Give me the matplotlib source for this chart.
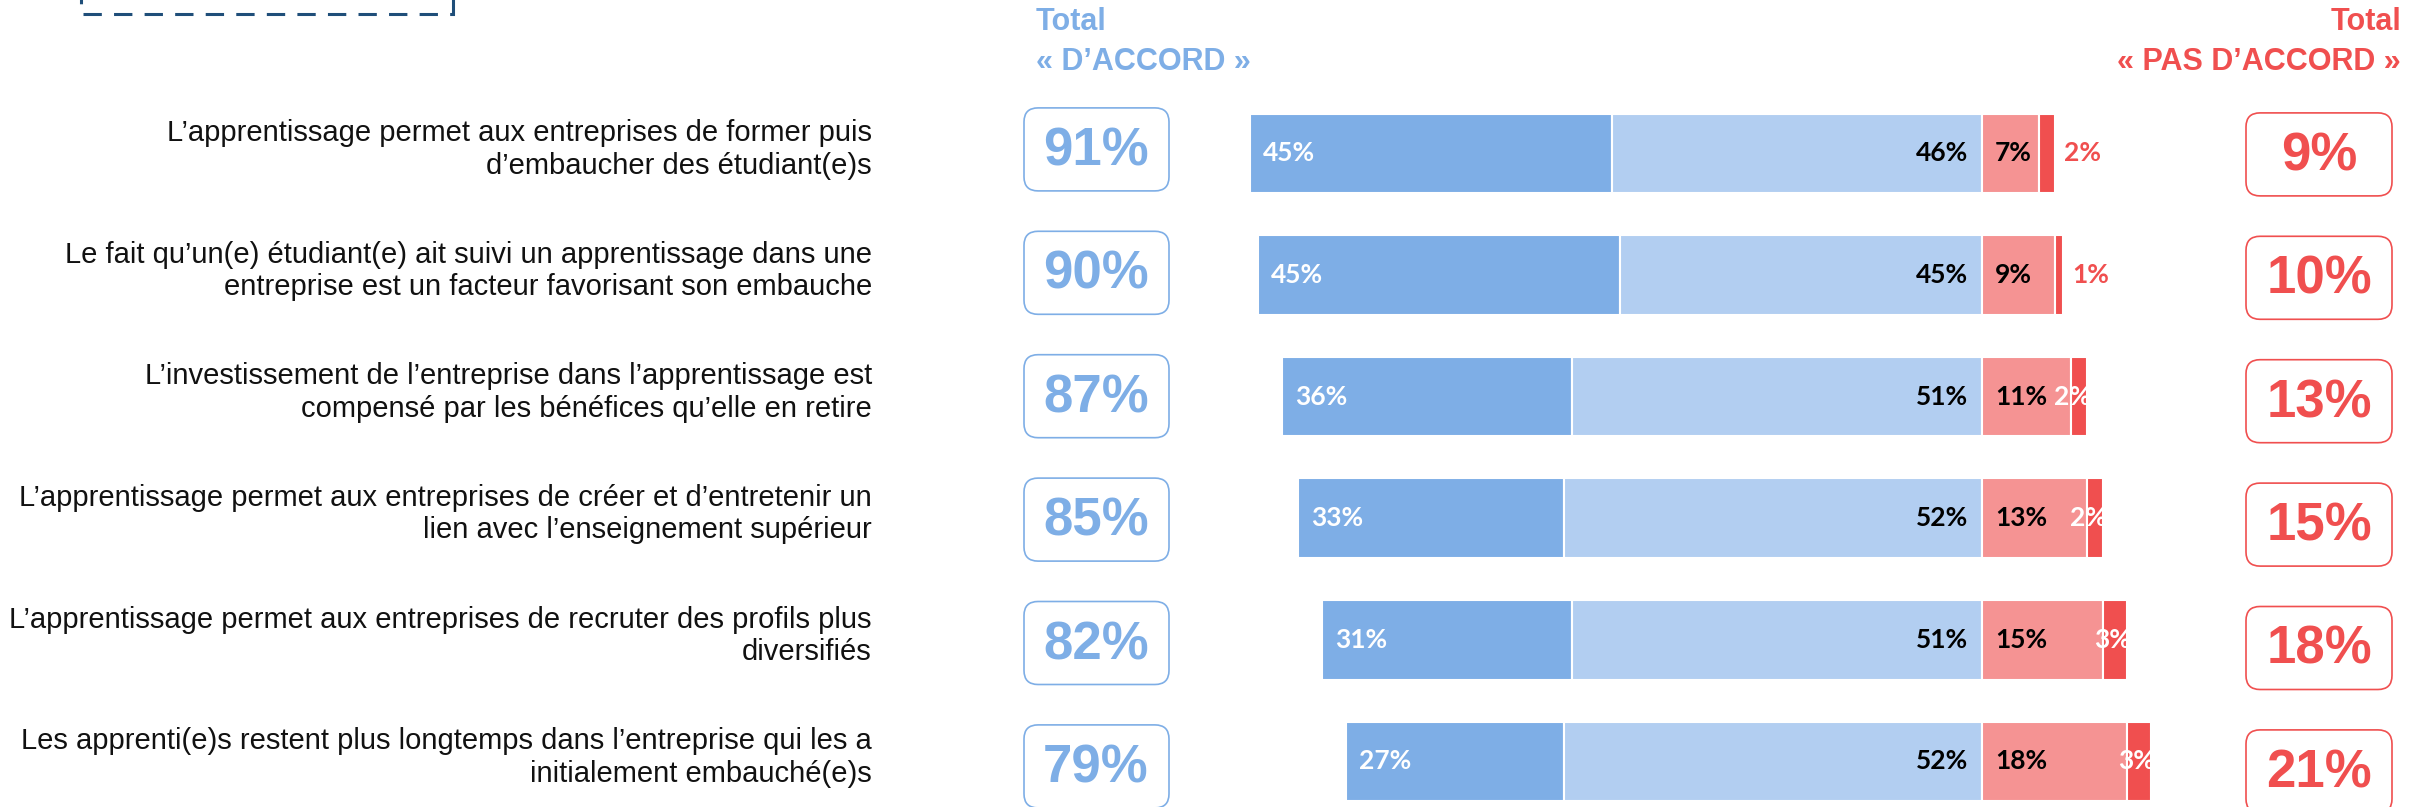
import matplotlib
matplotlib.use('Agg')
import matplotlib.pyplot as plt
from matplotlib.patches import FancyBboxPatch, Rectangle
import numpy as np

# Survey statements and answer shares (%)
statements = [
    "L\u2019apprentissage permet aux entreprises de former puis\nd\u2019embaucher des \u00e9tudiant(e)s",
    "Le fait qu\u2019un(e) \u00e9tudiant(e) ait suivi un apprentissage dans une\nentreprise est un facteur favorisant son embauche",
    "L\u2019investissement de l\u2019entreprise dans l\u2019apprentissage est\ncompens\u00e9 par les b\u00e9n\u00e9fices qu\u2019elle en retire",
    "L\u2019apprentissage permet aux entreprises de cr\u00e9er et d\u2019entretenir un\nlien avec l\u2019enseignement sup\u00e9rieur",
    "L\u2019apprentissage permet aux entreprises de recruter des profils plus\ndiversifi\u00e9s",
    "Les apprenti(e)s restent plus longtemps dans l\u2019entreprise qui les a\ninitialement embauch\u00e9(e)s",
]
tout_a_fait = [45, 45, 36, 33, 31, 27]
plutot_oui = [46, 45, 51, 52, 51, 52]
plutot_pas = [7, 9, 11, 13, 15, 18]
pas_du_tout = [2, 1, 2, 2, 3, 3]
total_accord = [91, 90, 87, 85, 82, 79]
total_pas_accord = [9, 10, 13, 15, 18, 21]

DARK_BLUE = '#7eaee6'
LIGHT_BLUE = '#b2cef1'
PINK = '#f59393'
RED = '#f04f4f'
FRAME = '#1f4e79'

W, H = 2417, 807
fig = plt.figure(figsize=(W / 100, H / 100), dpi=100)

# Bars: x in percent, 0 = split between agree / disagree
ax = fig.add_axes([1097 / W, -15.2 / H, 1448.5 / W, 729.6 / H])
ax.set_xlim(-110, 70)
ax.set_ylim(5.5, -0.5)
ax.axis('off')

y = np.arange(len(statements))
a = np.array(tout_a_fait)
b = np.array(plutot_oui)
c = np.array(plutot_pas)
d = np.array(pas_du_tout)
h = 0.653

ax.barh(y, a, left=-(a + b), height=h, color=DARK_BLUE, edgecolor='white', linewidth=1.5)
ax.barh(y, b, left=-b, height=h, color=LIGHT_BLUE, edgecolor='white', linewidth=1.5)
ax.barh(y, c, left=0, height=h, color=PINK, edgecolor='white', linewidth=1.5)
ax.barh(y, d, left=c, height=h, color=RED, edgecolor='white', linewidth=1.5)

lab = dict(fontsize=19, fontweight='bold', family='Lato', va='center')
for i in range(len(y)):
    ax.text(-(a[i] + b[i]) + 1.6, y[i], f'{a[i]}%', color='white', ha='left', **lab)
    ax.text(-1.8, y[i], f'{b[i]}%', color='black', ha='right', **lab)
    ax.text(1.6, y[i], f'{c[i]}%', color='black', ha='left', **lab)
    if c[i] < 10:
        ax.text(c[i] + d[i] + 1.2, y[i], f'{d[i]}%', color=RED, ha='left', **lab)
    else:
        ax.text(c[i] + d[i] + 0.5, y[i], f'{d[i]}%', color='white', ha='right', **lab)

# Overlay in pixel units for labels, totals and headers
ov = fig.add_axes([0, 0, 1, 1])
ov.set_xlim(0, W)
ov.set_ylim(H, 0)
ov.axis('off')
ov.patch.set_alpha(0)

row0, step = 153.4, 121.6
for i, text in enumerate(statements):
    yc = row0 + i * step
    ov.text(872, yc - 4, text, ha='right', va='center', fontsize=21,
            family='Liberation Sans', linespacing=1.2, color='#111111')

    yl = yc - 4 + 1.8 * i
    ov.add_patch(FancyBboxPatch((1024 + 14, yl - 41.5 + 14), 145 - 28, 83 - 28,
                                boxstyle='round,pad=14', facecolor='white',
                                edgecolor=DARK_BLUE, linewidth=1.2))
    ov.text(1096, yl + 2, f'{total_accord[i]}%', ha='center', va='center',
            fontsize=38, fontweight='bold', family='Liberation Sans', color=DARK_BLUE)

    yr = yc + 1 + 1.8 * i
    ov.add_patch(FancyBboxPatch((2246 + 14, yr - 41.5 + 14), 146 - 28, 83 - 28,
                                boxstyle='round,pad=14', facecolor='white',
                                edgecolor=RED, linewidth=1.2))
    ov.text(2319, yr + 2, f'{total_pas_accord[i]}%', ha='center', va='center',
            fontsize=38, fontweight='bold', family='Liberation Sans', color=RED)

hdr = dict(fontsize=22, fontweight='bold', family='Liberation Sans', va='center')
ov.text(1036, 22, 'Total', color=DARK_BLUE, ha='left', **hdr)
ov.text(1036, 62, '\u00ab D\u2019ACCORD \u00bb', color=DARK_BLUE, ha='left', **hdr)
ov.text(2401, 22, 'Total', color=RED, ha='right', **hdr)
ov.text(2401, 62, '\u00ab PAS D\u2019ACCORD \u00bb', color=RED, ha='right', **hdr)

# Dashed frame cut by the top edge
ov.add_patch(Rectangle((81, -40), 372, 54, fill=False, edgecolor=FRAME,
                       linewidth=2.2, linestyle=(0, (6, 4))))

fig.savefig('out.png', dpi=100)
